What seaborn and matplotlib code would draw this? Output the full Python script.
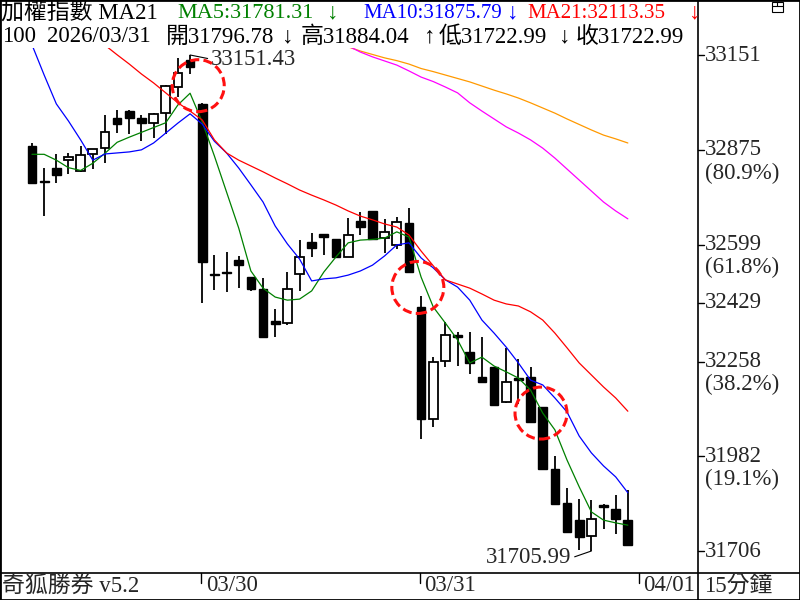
import numpy as np
import pandas as pd
import seaborn as sns
import matplotlib.pyplot as plt
import matplotlib.transforms as mtransforms
from matplotlib.patches import Ellipse, Rectangle
from matplotlib.lines import Line2D

sns.set_theme(style="white")
plt.rcParams['font.family'] = ['Liberation Serif', 'Noto Sans CJK TC', 'DejaVu Sans']

# 15 minute candles, 03/27 (partial) .. 03/31
opens = [32886, 32784, 32822, 32845, 32812, 32863, 32880, 32967, 32988, 32967,
         32952, 32983, 33057, 33137, 33009, 32513, 32517, 32554, 32504, 32469,
         32376, 32370, 32512, 32606, 32630, 32614, 32564, 32668, 32697, 32617,
         32598, 32661, 32416, 32090, 32260, 32335, 32285, 32212, 32241, 32141,
         32209, 32212, 32125, 31945, 31845, 31796, 31751, 31840, 31828, 31796.78]
highs = [32895, 32822, 32863, 32866, 32886, 32877, 32977, 32991, 32991, 32977,
         32982, 33064, 33142, 33151.43, 33012, 32569, 32578, 32566, 32504, 32501,
         32411, 32519, 32612, 32632, 32630, 32614, 32676, 32695, 32697, 32673,
         32679, 32705, 32450, 32271, 32374, 32345, 32345, 32330, 32241, 32297,
         32265, 32243, 32125, 31983, 31889, 31857, 31855, 31843, 31869, 31884.04]
lows = [32778, 32682, 32778, 32805, 32811, 32818, 32836, 32923, 32921, 32902,
        32910, 32921, 33030, 33095, 32430, 32467, 32462, 32473, 32465, 32326,
        32330, 32365, 32465, 32562, 32569, 32562, 32562, 32627, 32615, 32575,
        32585, 32518, 32032, 32068, 32241, 32246, 32221, 32199, 32131, 32136,
        32134, 32083, 31944, 31840, 31760, 31710, 31705.99, 31769, 31755, 31722.99]
closes = [32778, 32781, 32803, 32854, 32860, 32877, 32926, 32950, 32969, 32952,
          32979, 33062, 33098, 33117, 32547, 32511, 32515, 32540, 32469, 32330,
          32367, 32469, 32562, 32590, 32620, 32564, 32627, 32651, 32615, 32635,
          32666, 32518, 32090, 32256, 32335, 32329, 32255, 32199, 32131, 32198,
          32204, 32083, 31944, 31843, 31760, 31748, 31798, 31834, 31798, 31722.99]

ma5 = [32862, 32862, 32845, 32823, 32815, 32836, 32865, 32897, 32912, 32926,
       32940, 32954, 33006, 33040, 32956, 32857, 32752, 32647, 32522, 32472,
       32446, 32437, 32440, 32464, 32519, 32563, 32604, 32612, 32614, 32618,
       32636, 32621, 32504, 32417, 32370, 32321, 32254, 32271, 32245, 32228,
       32210, 32175, 32108, 32059, 31971, 31893, 31820, 31796, 31788, 31781.31]
ma10 = [33181, 33093, 33009, 32959, 32904, 32845, 32863, 32866, 32869, 32875,
        32895, 32924, 32953, 32980, 32950, 32900, 32866, 32822, 32773, 32723,
        32653, 32601, 32557, 32493, 32499, 32502, 32510, 32522, 32539, 32566,
        32598, 32604, 32560, 32531, 32496, 32475, 32437, 32379, 32341, 32300,
        32254, 32204, 32190, 32152, 32111, 32041, 31992, 31954, 31922, 31875.79]
ma21_start = 6
ma21 = [33180, 33152, 33125, 33096, 33070, 33041, 33012, 32988, 32962, 32904,
        32866, 32845, 32828, 32811, 32793, 32776, 32758, 32743, 32729, 32714,
        32697, 32682, 32671, 32659, 32650, 32627, 32580, 32537, 32496, 32484,
        32472, 32455, 32437, 32426, 32420, 32403, 32379, 32341, 32298, 32254,
        32219, 32184, 32152, 32113.35]
long_start = 26
ma_orange = [33175, 33163, 33153, 33143, 33135, 33125, 33112, 33103, 33093, 33083,
             33073, 33061, 33049, 33038, 33026, 33012, 32997, 32982, 32965, 32949,
             32933, 32918, 32907, 32895]
ma_magenta = [33178, 33160, 33146, 33134, 33122, 33105, 33087, 33074, 33058, 33041,
              33012, 32988, 32965, 32942, 32924, 32904, 32880, 32851, 32819, 32787,
              32755, 32723, 32697, 32674]

axis_vals = [33151, 32875, 32599, 32429, 32258, 31982, 31706]
axis_pct = ['', '(80.9%)', '(61.8%)', '', '(38.2%)', '(19.1%)', '']
date_pos = [14, 32, 50]
date_labels = ['03/30', '03/31', '04/01']
hi_idx, hi_val = 13, 33151.43
lo_idx, lo_val = 46, 31705.99
circles = [(13.67, 33062), (31.73, 32474), (41.86, 32108)]

W, H = 800, 600
PXB = 12.16      # pixels per bar
PXV = 2.9142     # index points per pixel
FS = 16.5
FS_MA = 15


def fx(px):
    return px / W


def fy(py):
    return 1 - py / H


fig = plt.figure(figsize=(8, 6), dpi=100)
fig.patch.set_facecolor('white')
ax = fig.add_axes([0, fy(573), fx(698), (573 - 48) / H])

idx = np.arange(len(opens))
o = np.array(opens)
c = np.array(closes)
up = c > o
bottom = np.minimum(o, c)
height = np.maximum(np.abs(c - o), 3)

ax.vlines(idx, lows, highs, color='black', lw=1.3, zorder=2)
ax.bar(idx[up], height[up], bottom=bottom[up], width=0.72, color='white',
       edgecolor='black', lw=1.3, zorder=3)
ax.bar(idx[~up], height[~up], bottom=bottom[~up], width=0.72, color='black',
       edgecolor='black', lw=1.0, zorder=3)

lines = [
    (idx, ma5, '#008000'),
    (idx, ma10, '#0000ff'),
    (np.arange(ma21_start, ma21_start + len(ma21)), ma21, '#ff0000'),
    (np.arange(long_start, long_start + len(ma_orange)), ma_orange, '#ff9900'),
    (np.arange(long_start, long_start + len(ma_magenta)), ma_magenta, '#ff00ff'),
]
for xs, ys, col in lines:
    df = pd.DataFrame({'bar': xs, 'val': ys})
    sns.lineplot(data=df, x='bar', y='val', ax=ax, color=col, lw=0.9,
                 legend=False, zorder=4)
ax.set_xlim(-32 / PXB, (698 - 32) / PXB)
ax.set_ylim(31641.9, 33171.8)
ax.axis('off')

# red dashed circles
for cx, cy in circles:
    ax.add_patch(Ellipse((cx, cy), 2 * 26 / PXB, 2 * 26 * PXV, fill=False,
                         edgecolor='#ff1010', lw=2.2, linestyle=(0, (3, 1.4)),
                         zorder=5))

# high / low labels
ax.annotate(f"{hi_val:.2f}", xy=(hi_idx, hi_val), xytext=(15, -3.0),
            textcoords='offset points', ha='left', va='center', fontsize=FS,
            arrowprops=dict(arrowstyle='-', color='black', lw=0.8,
                            shrinkA=0, shrinkB=0, relpos=(0, 0.5)))
ax.annotate(f"{lo_val:.2f}", xy=(lo_idx, lo_val), xytext=(-14.4, -5),
            textcoords='offset points', ha='right', va='center', fontsize=FS,
            arrowprops=dict(arrowstyle='-', color='black', lw=0.8,
                            shrinkA=0, shrinkB=0, relpos=(1, 0.5)))

# right price axis
ty = mtransforms.blended_transform_factory(ax.transAxes, ax.transData)
for v, p in zip(axis_vals, axis_pct):
    ax.plot([1, 1 + 6 / 698], [v, v], transform=ty, clip_on=False,
            color='black', lw=1)
    ax.annotate(str(v), xy=(1, v), xycoords=ty, xytext=(4.8, 0),
                textcoords='offset points', ha='left', va='center', fontsize=FS)
    if p:
        ax.annotate(p, xy=(1, v), xycoords=ty, xytext=(4.8, -16.8),
                    textcoords='offset points', ha='left', va='center',
                    fontsize=FS)

# date axis
tx = mtransforms.blended_transform_factory(ax.transData, ax.transAxes)
for d, lab in zip(date_pos, date_labels):
    ax.plot([d - 0.12, d - 0.12], [0, -10 / 525], transform=tx, clip_on=False,
            color='black', lw=1)
    ax.annotate(lab, xy=(d - 0.12, 0), xycoords=tx, xytext=(3.5, -9),
                textcoords='offset points', ha='left', va='center', fontsize=FS)

# header, pieces placed where the reference draws them
head1 = [("加權指數 MA21", 1, 'black', FS),
         (f"MA5:{ma5[-1]:.2f}", 177, '#008000', 16), ("↓", 327, '#008000', FS),
         (f"MA10:{ma10[-1]:.2f}", 363, '#0000ff', FS_MA), ("↓", 507, '#0000ff', FS),
         (f"MA21:{ma21[-1]:.2f}", 527, '#ff0000', FS_MA), ("↓", 689, '#ff0000', FS)]
head2 = [("100", 2), ("2026/03/31", 47),
         (f"開{opens[-1]:.2f}", 166), ("↓", 282),
         (f"高{highs[-1]:.2f}", 301), ("↑", 424),
         (f"低{lows[-1]:.2f}", 439), ("↓", 559),
         (f"收{closes[-1]:.2f}", 576)]
for t, x, col, fs in head1:
    fig.text(fx(x), fy(13), t, color=col, fontsize=fs, ha='left', va='center')
for t, x in head2:
    fig.text(fx(x), fy(37), t, color='black', fontsize=FS, ha='left', va='center')

fig.text(fx(2), fy(586), "奇狐勝券 v5.2", fontsize=FS, ha='left', va='center')
fig.text(fx(704), fy(586), "15分鐘", fontsize=FS, ha='left', va='center')

# frame lines
fig.add_artist(Rectangle((0, 0), 1, 1, transform=fig.transFigure, fill=False,
                         edgecolor='black', lw=2))
fig.add_artist(Line2D([0, 1], [fy(573), fy(573)], transform=fig.transFigure,
                      color='black', lw=1.2))
fig.add_artist(Line2D([fx(698), fx(698)], [0, 1], transform=fig.transFigure,
                      color='black', lw=1.2))
# small window icon top right
fig.add_artist(Rectangle((fx(772), fy(12)), fx(11), 10 / H, transform=fig.transFigure,
                         fill=False, edgecolor='black', lw=0.8))
fig.add_artist(Line2D([fx(772), fx(783)], [fy(6), fy(6)], transform=fig.transFigure,
                      color='black', lw=0.8))
fig.add_artist(Line2D([fx(777), fx(777)], [fy(2), fy(6)], transform=fig.transFigure,
                      color='black', lw=0.8))

fig.savefig('out.png', dpi=100)
